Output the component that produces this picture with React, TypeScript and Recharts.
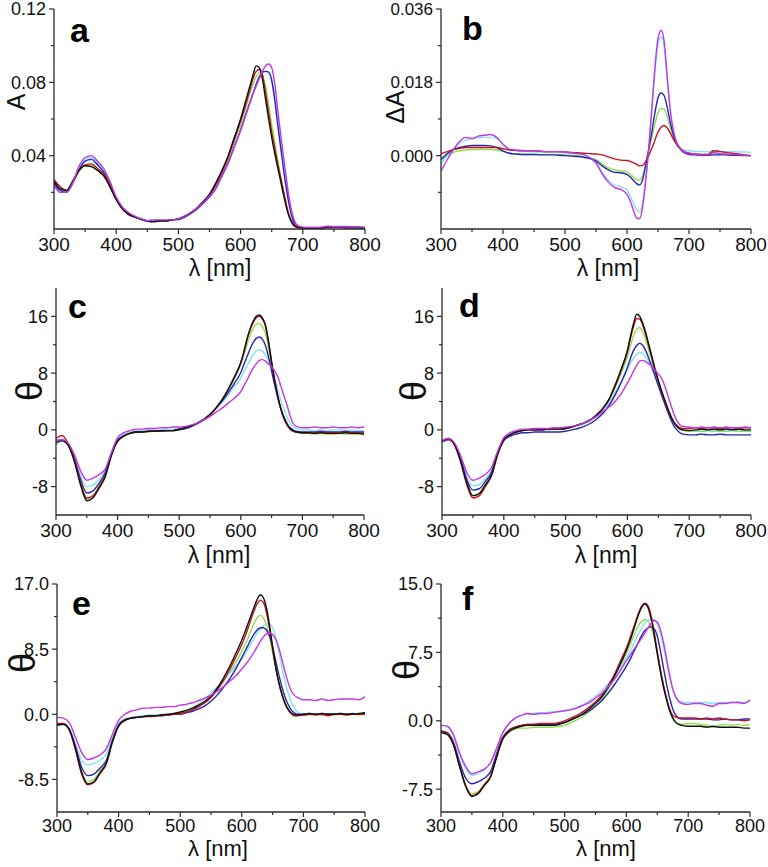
import React from 'react';
import { LineChart, Line, XAxis, YAxis } from 'recharts';

const WAVELENGTH = [
  300, 310, 320, 330, 340, 350, 360, 370, 380, 390,
  400, 410, 420, 430, 440, 450, 460, 470, 480, 490,
  500, 510, 520, 530, 540, 550, 560, 570, 580, 590,
  600, 605, 610, 615, 620, 625, 630, 635, 640, 645,
  650, 655, 660, 665, 670, 675, 680, 685, 690, 700,
  710, 720, 730, 740, 750, 760, 770, 780, 790, 800,
];
const X_TICKS = [300, 350, 400, 450, 500, 550, 600, 650, 700, 750, 800];

// ---- panel a : absorbance A ----
const A_K = [
  0.026, 0.022, 0.021, 0.026, 0.032, 0.0345, 0.034, 0.032, 0.029, 0.023,
  0.016, 0.011, 0.008, 0.0065, 0.0055, 0.0045, 0.004, 0.0045, 0.0045, 0.005,
  0.0055, 0.007, 0.009, 0.0115, 0.015, 0.019, 0.025, 0.032, 0.040, 0.050,
  0.060, 0.066, 0.072, 0.078, 0.084, 0.089, 0.088, 0.082, 0.071, 0.060,
  0.050, 0.041, 0.033, 0.025, 0.017, 0.010, 0.005, 0.002, 0.001, 0.0005,
  0.0005, 0.0005, 0.0005, 0.001, 0.001, 0.001, 0.0008, 0.0008, 0.0008, 0.0005,
];
const A_R = [
  0.027, 0.023, 0.021, 0.026, 0.032, 0.035, 0.0355, 0.033, 0.030, 0.024,
  0.0165, 0.011, 0.008, 0.0065, 0.0055, 0.0045, 0.004, 0.0045, 0.0045, 0.005,
  0.0055, 0.007, 0.009, 0.0115, 0.015, 0.0185, 0.024, 0.031, 0.039, 0.049,
  0.059, 0.064, 0.070, 0.076, 0.082, 0.086, 0.087, 0.084, 0.075, 0.064,
  0.053, 0.044, 0.035, 0.027, 0.019, 0.011, 0.0055, 0.0025, 0.0012, 0.0005,
  0.0005, 0.0005, 0.0005, 0.001, 0.001, 0.001, 0.0008, 0.0008, 0.0008, 0.0005,
];
const A_G = [
  0.025, 0.021, 0.020, 0.025, 0.031, 0.0345, 0.0345, 0.032, 0.029, 0.023,
  0.016, 0.011, 0.008, 0.0065, 0.005, 0.0042, 0.004, 0.0045, 0.0045, 0.005,
  0.0052, 0.0065, 0.0085, 0.011, 0.0145, 0.018, 0.023, 0.030, 0.038, 0.048,
  0.057, 0.062, 0.068, 0.074, 0.079, 0.083, 0.085, 0.084, 0.078, 0.068,
  0.057, 0.047, 0.037, 0.028, 0.019, 0.011, 0.0055, 0.0025, 0.0012, 0.0005,
  0.0005, 0.0005, 0.0005, 0.001, 0.001, 0.0008, 0.0008, 0.0008, 0.0006, 0.0005,
];
const A_B = [
  0.025, 0.021, 0.020, 0.025, 0.032, 0.037, 0.038, 0.035, 0.031, 0.024,
  0.0165, 0.011, 0.008, 0.0065, 0.0052, 0.0042, 0.004, 0.0045, 0.0045, 0.005,
  0.0052, 0.0065, 0.0085, 0.011, 0.014, 0.0175, 0.022, 0.029, 0.036, 0.045,
  0.054, 0.059, 0.064, 0.069, 0.074, 0.079, 0.083, 0.0855, 0.086, 0.0855,
  0.081, 0.070, 0.056, 0.043, 0.030, 0.019, 0.010, 0.004, 0.0015, 0.0005,
  0.0005, 0.0005, 0.0005, 0.001, 0.001, 0.001, 0.0008, 0.0008, 0.0008, 0.0005,
];
const A_C = [
  0.024, 0.020, 0.020, 0.025, 0.033, 0.038, 0.039, 0.036, 0.032, 0.025,
  0.017, 0.0115, 0.0085, 0.0065, 0.0052, 0.0042, 0.0045, 0.0045, 0.0045, 0.005,
  0.0052, 0.0065, 0.0085, 0.011, 0.014, 0.0175, 0.022, 0.029, 0.036, 0.045,
  0.054, 0.059, 0.064, 0.069, 0.074, 0.078, 0.082, 0.085, 0.086, 0.086,
  0.082, 0.072, 0.059, 0.046, 0.033, 0.021, 0.011, 0.005, 0.002, 0.001,
  0.001, 0.001, 0.001, 0.0015, 0.0015, 0.0015, 0.0015, 0.0012, 0.0012, 0.001,
];
const A_M = [
  0.024, 0.020, 0.020, 0.025, 0.034, 0.039, 0.040, 0.037, 0.033, 0.026,
  0.0175, 0.012, 0.009, 0.007, 0.0055, 0.0045, 0.005, 0.005, 0.005, 0.005,
  0.0055, 0.007, 0.009, 0.0115, 0.0145, 0.018, 0.022, 0.029, 0.036, 0.045,
  0.054, 0.059, 0.064, 0.069, 0.074, 0.078, 0.082, 0.086, 0.089, 0.090,
  0.088, 0.079, 0.064, 0.050, 0.037, 0.024, 0.013, 0.006, 0.0025, 0.001,
  0.0008, 0.0008, 0.001, 0.0015, 0.0012, 0.0012, 0.0012, 0.001, 0.001, 0.001,
];

// ---- panel b : difference absorbance dA ----
const B_R = [
  0.0005, 0.001, 0.0015, 0.0018, 0.002, 0.002, 0.002, 0.002, 0.002, 0.002,
  0.0017, 0.0014, 0.0013, 0.0012, 0.0012, 0.0012, 0.0011, 0.001, 0.001, 0.001,
  0.0009, 0.0008, 0.0007, 0.0006, 0.0005, 0.0004, 0.0002, -0.0003, -0.0008, -0.0011,
  -0.0012, -0.0014, -0.0017, -0.0021, -0.0025, -0.0024, -0.0015, 0.0, 0.0018, 0.0038,
  0.0058, 0.007, 0.0074, 0.0068, 0.0055, 0.004, 0.0028, 0.0018, 0.0012, 0.0006,
  0.0004, 0.0003, 0.0003, 0.0012, 0.001, 0.0008, 0.0006, 0.0004, 0.0002, 0.0,
];
const B_G = [
  -0.0008, 0.0, 0.0008, 0.0012, 0.0014, 0.0015, 0.0015, 0.0015, 0.0015, 0.0014,
  0.001, 0.0006, 0.0004, 0.0003, 0.0003, 0.0003, 0.0003, 0.0003, 0.0003, 0.0003,
  0.0002, 0.0001, 0.0, -0.0002, -0.0005, -0.001, -0.002, -0.003, -0.0035, -0.0037,
  -0.004, -0.0045, -0.0052, -0.0058, -0.006, -0.005, -0.002, 0.0015, 0.0045, 0.0078,
  0.0105, 0.0116, 0.0114, 0.0095, 0.0068, 0.0045, 0.0028, 0.0018, 0.0012, 0.0006,
  0.0004, 0.0003, 0.0003, 0.0005, 0.0004, 0.0003, 0.0002, 0.0002, 0.0001, 0.0,
];
const B_B = [
  -0.001, 0.0005, 0.0015, 0.002, 0.0023, 0.0025, 0.0025, 0.0025, 0.0024, 0.002,
  0.0012, 0.0006, 0.0004, 0.0003, 0.0003, 0.0003, 0.0002, 0.0002, 0.0002, 0.0001,
  0.0, -0.0001, -0.0002, -0.0004, -0.0007, -0.0013, -0.0025, -0.0035, -0.0041, -0.0042,
  -0.0046, -0.0052, -0.006, -0.0068, -0.0072, -0.006, -0.0025, 0.0015, 0.0058, 0.0105,
  0.0142, 0.0154, 0.0147, 0.0118, 0.008, 0.005, 0.003, 0.0018, 0.001, 0.0003,
  0.0002, 0.0001, 0.0001, 0.0002, 0.0002, 0.0002, 0.0001, 0.0001, 0.0, 0.0,
];
const B_C = [
  -0.002, 0.0, 0.0015, 0.003, 0.0038, 0.0042, 0.0044, 0.0045, 0.0045, 0.0042,
  0.0028, 0.0015, 0.0012, 0.001, 0.001, 0.0009, 0.0009, 0.0008, 0.0008, 0.0008,
  0.0007, 0.0006, 0.0004, 0.0002, -0.0005, -0.0015, -0.004, -0.006, -0.0072, -0.0076,
  -0.0085, -0.0098, -0.0115, -0.0132, -0.0138, -0.0115, -0.0055, 0.002, 0.011, 0.0205,
  0.0272, 0.0292, 0.0265, 0.018, 0.0105, 0.0058, 0.0032, 0.002, 0.0015, 0.0012,
  0.0011, 0.001, 0.001, 0.0012, 0.0011, 0.001, 0.001, 0.0009, 0.0009, 0.0008,
];
const B_M = [
  -0.0038, -0.001, 0.0015, 0.0035, 0.0045, 0.0042, 0.0048, 0.005, 0.0052, 0.0045,
  0.0028, 0.0016, 0.0014, 0.0013, 0.0012, 0.0012, 0.0011, 0.001, 0.001, 0.001,
  0.0009, 0.0007, 0.0005, 0.0003, -0.0005, -0.0018, -0.0045, -0.0065, -0.0078, -0.0083,
  -0.0095, -0.011, -0.0132, -0.0152, -0.0155, -0.0128, -0.0065, 0.0015, 0.0115, 0.0215,
  0.0288, 0.0308, 0.028, 0.0192, 0.011, 0.006, 0.0033, 0.002, 0.0012, 0.0005,
  0.0003, 0.0002, 0.0002, 0.0008, 0.0005, 0.0004, 0.0003, 0.0002, 0.0001, 0.0,
];

// ---- panel c : ellipticity ----
const C_K = [
  -1.5, -1.5, -2.2, -4.5, -7.8, -10.0, -9.6, -8.2, -6.6, -3.6,
  -1.6, -0.9, -0.5, -0.3, -0.3, -0.2, -0.2, -0.1, -0.1, -0.1,
  0.1, 0.3, 0.6, 1.0, 1.5, 2.2, 3.1, 4.3, 5.8, 7.5,
  9.5, 11.0, 12.8, 14.2, 15.3, 16.0, 16.2, 15.8, 14.8, 12.5,
  9.6, 7.0, 4.8, 3.0, 1.7, 0.8, 0.2, -0.1, -0.3, -0.4,
  -0.4, -0.5, -0.4, -0.5, -0.5, -0.5, -0.4, -0.5, -0.5, -0.6,
];
const C_R = [
  -1.2, -0.8, -2.0, -4.3, -7.5, -9.6, -9.3, -8.0, -6.4, -3.5,
  -1.6, -0.9, -0.5, -0.3, -0.3, -0.2, -0.2, -0.1, -0.1, -0.1,
  0.1, 0.3, 0.6, 1.0, 1.5, 2.2, 3.1, 4.3, 5.8, 7.5,
  9.5, 11.0, 12.7, 14.1, 15.1, 15.8, 16.0, 15.6, 14.6, 12.3,
  9.5, 6.9, 4.7, 2.9, 1.6, 0.7, 0.1, -0.2, -0.3, -0.4,
  -0.4, -0.4, -0.3, -0.4, -0.4, -0.4, -0.3, -0.4, -0.4, -0.5,
];
const C_G = [
  -2.0, -1.6, -2.3, -4.4, -7.6, -9.7, -9.3, -7.9, -6.3, -3.5,
  -1.6, -0.9, -0.5, -0.4, -0.3, -0.3, -0.2, -0.2, -0.2, -0.1,
  0.0, 0.2, 0.5, 0.9, 1.4, 2.1, 3.0, 4.2, 5.6, 7.3,
  9.2, 10.5, 12.0, 13.3, 14.3, 14.9, 15.0, 14.6, 13.6, 11.6,
  9.1, 6.8, 4.7, 3.0, 1.7, 0.8, 0.2, -0.2, -0.3, -0.5,
  -0.5, -0.6, -0.5, -0.6, -0.6, -0.5, -0.6, -0.6, -0.6, -0.7,
];
const C_B = [
  -1.8, -1.5, -2.1, -4.1, -7.0, -8.9, -8.6, -7.5, -6.0, -3.3,
  -1.5, -0.8, -0.5, -0.3, -0.3, -0.2, -0.2, -0.2, -0.1, -0.1,
  0.0, 0.2, 0.5, 0.9, 1.4, 2.1, 3.1, 4.1, 5.3, 6.6,
  8.1, 9.2, 10.3, 11.4, 12.3, 12.9, 13.1, 12.8, 11.9, 10.3,
  8.3, 6.3, 4.5, 3.0, 1.8, 0.9, 0.3, 0.0, -0.2, -0.3,
  -0.3, -0.3, -0.2, -0.3, -0.3, -0.3, -0.2, -0.3, -0.3, -0.3,
];
const C_C = [
  -1.5, -1.4, -2.0, -3.8, -6.5, -8.0, -7.8, -7.0, -5.7, -3.1,
  -1.3, -0.6, -0.3, -0.1, -0.1, 0.0, 0.0, 0.0, 0.1, 0.1,
  0.2, 0.3, 0.6, 0.9, 1.4, 2.1, 3.0, 3.9, 5.0, 6.1,
  7.3, 8.2, 9.0, 9.8, 10.6, 11.1, 11.3, 11.1, 10.6, 9.8,
  8.8, 7.2, 5.7, 4.2, 2.9, 1.8, 0.9, 0.4, 0.2, 0.0,
  0.0, -0.1, 0.0, -0.1, 0.0, 0.0, -0.1, 0.0, -0.1, -0.1,
];
const C_M = [
  -1.5, -1.4, -1.9, -3.5, -5.8, -7.1, -6.8, -6.3, -5.5, -3.2,
  -1.1, -0.4, -0.1, 0.1, 0.1, 0.2, 0.2, 0.3, 0.3, 0.4,
  0.4, 0.5, 0.7, 1.0, 1.4, 1.9, 2.5, 3.1, 3.8, 4.5,
  5.4, 6.2, 7.0, 7.9, 8.7, 9.3, 9.8, 9.9, 9.7, 9.3,
  8.9, 8.3, 7.5, 6.2, 4.8, 3.5, 2.0, 0.9, 0.5, 0.3,
  0.3, 0.4, 0.3, 0.3, 0.4, 0.3, 0.3, 0.4, 0.3, 0.4,
];

// ---- panel d ----
const D_K = [
  -1.6, -1.2, -2.0, -4.3, -7.4, -9.3, -9.0, -7.8, -6.4, -3.4,
  -1.4, -0.7, -0.3, -0.1, 0.0, 0.0, 0.0, 0.1, 0.1, 0.1,
  0.2, 0.4, 0.7, 1.0, 1.4, 2.1, 3.0, 4.3, 6.3, 8.6,
  11.2, 13.2, 15.0, 16.3, 16.0, 15.0, 13.6, 11.9, 10.2, 8.5,
  7.0, 5.6, 4.3, 3.1, 2.0, 1.1, 0.5, 0.1, 0.0, -0.1,
  0.0, 0.1, 0.0, 0.1, 0.0, 0.1, 0.0, 0.1, 0.0, 0.0,
];
const D_R = [
  -1.6, -1.3, -2.1, -4.5, -7.7, -9.6, -9.3, -8.0, -6.5, -3.5,
  -1.4, -0.7, -0.3, -0.1, 0.0, 0.0, 0.0, 0.1, 0.1, 0.1,
  0.2, 0.4, 0.7, 1.0, 1.4, 2.1, 3.0, 4.2, 6.1, 8.4,
  11.0, 12.9, 14.6, 15.7, 15.6, 14.7, 13.3, 11.7, 10.0, 8.3,
  6.8, 5.4, 4.1, 2.9, 1.9, 1.1, 0.6, 0.3, 0.2, 0.2,
  0.3, 0.2, 0.3, 0.3, 0.2, 0.3, 0.3, 0.2, 0.3, 0.3,
];
const D_G = [
  -1.6, -1.3, -2.0, -4.3, -7.4, -9.2, -8.9, -7.7, -6.3, -3.4,
  -1.4, -0.7, -0.3, -0.1, 0.0, 0.0, 0.0, 0.0, 0.1, 0.1,
  0.2, 0.4, 0.6, 0.9, 1.3, 2.0, 2.9, 4.1, 5.9, 8.0,
  10.3, 11.9, 13.3, 14.2, 14.4, 13.8, 12.6, 11.1, 9.6, 8.1,
  6.7, 5.4, 4.2, 3.0, 2.0, 1.1, 0.5, 0.1, -0.1, -0.2,
  -0.2, -0.2, -0.1, -0.2, -0.2, -0.2, -0.1, -0.2, -0.2, -0.2,
];
const D_B = [
  -1.7, -1.4, -2.0, -4.1, -7.0, -8.5, -8.3, -7.3, -6.0, -3.3,
  -1.5, -0.9, -0.6, -0.4, -0.4, -0.3, -0.3, -0.3, -0.3, -0.3,
  -0.2, 0.0, 0.2, 0.5, 0.9, 1.5, 2.3, 3.4, 4.9, 6.7,
  8.8, 10.1, 11.2, 11.9, 12.2, 11.9, 11.1, 10.0, 8.8, 7.5,
  6.2, 5.0, 3.8, 2.6, 1.5, 0.6, 0.0, -0.4, -0.6, -0.7,
  -0.7, -0.6, -0.7, -0.7, -0.6, -0.7, -0.7, -0.7, -0.7, -0.7,
];
const D_C = [
  -1.6, -1.3, -1.9, -3.9, -6.6, -7.9, -7.7, -6.9, -5.7, -3.1,
  -1.3, -0.6, -0.2, 0.0, 0.0, 0.0, 0.1, 0.1, 0.1, 0.1,
  0.2, 0.4, 0.6, 0.9, 1.3, 1.9, 2.7, 3.8, 5.2, 6.8,
  8.5, 9.4, 10.1, 10.6, 10.9, 10.8, 10.3, 9.5, 8.6, 7.6,
  6.6, 5.5, 4.4, 3.2, 2.1, 1.2, 0.6, 0.2, 0.0, -0.1,
  -0.1, 0.0, -0.1, -0.1, 0.0, -0.1, -0.1, 0.0, -0.1, -0.1,
];
const D_M = [
  -1.5, -1.2, -1.8, -3.6, -6.0, -7.1, -6.8, -6.3, -5.3, -3.0,
  -1.1, -0.4, -0.1, 0.1, 0.1, 0.2, 0.2, 0.2, 0.3, 0.3,
  0.4, 0.5, 0.7, 1.0, 1.4, 1.9, 2.6, 3.2, 4.0, 5.1,
  6.6, 7.4, 8.3, 9.1, 9.7, 9.8, 9.6, 9.3, 8.9, 8.4,
  7.9, 7.3, 6.3, 5.0, 3.6, 2.3, 1.3, 0.7, 0.5, 0.4,
  0.3, 0.4, 0.3, 0.4, 0.3, 0.4, 0.3, 0.3, 0.4, 0.3,
];

// ---- panel e ----
const E_K = [
  -1.4, -1.3, -2.0, -4.5, -7.6, -9.1, -8.8, -7.6, -6.4, -3.6,
  -1.5, -0.8, -0.5, -0.4, -0.3, -0.2, -0.2, -0.1, 0.0, 0.1,
  0.3, 0.5, 0.8, 1.2, 1.7, 2.4, 3.4, 4.7, 6.2, 7.9,
  9.7, 10.7, 11.8, 12.9, 14.0, 15.0, 15.6, 15.2, 13.9, 11.6,
  8.8, 6.2, 4.2, 2.7, 1.5, 0.7, 0.2, 0.0, -0.1, 0.0,
  0.1, 0.0, 0.1, 0.0, 0.0, 0.1, 0.0, 0.0, 0.1, 0.2,
];
const E_R = [
  -1.2, -1.2, -2.0, -4.6, -7.8, -9.2, -8.9, -7.7, -6.5, -3.6,
  -1.5, -0.8, -0.5, -0.4, -0.3, -0.3, -0.2, -0.2, -0.1, 0.0,
  0.1, 0.3, 0.6, 1.0, 1.5, 2.2, 3.2, 4.4, 5.8, 7.4,
  9.1, 10.1, 11.2, 12.4, 13.5, 14.4, 14.9, 14.6, 13.3, 11.2,
  8.6, 6.2, 4.2, 2.6, 1.4, 0.6, 0.1, -0.2, -0.2, -0.1,
  0.0, -0.1, 0.0, -0.2, 0.0, 0.0, -0.1, 0.0, 0.0, 0.0,
];
const E_G = [
  -1.3, -1.3, -2.0, -4.4, -7.5, -8.8, -8.5, -7.4, -6.2, -3.5,
  -1.5, -0.8, -0.5, -0.4, -0.3, -0.3, -0.3, -0.2, -0.1, 0.0,
  0.1, 0.3, 0.6, 1.0, 1.5, 2.2, 3.1, 4.2, 5.4, 6.7,
  8.2, 9.0, 9.9, 10.9, 11.9, 12.6, 12.9, 12.6, 11.7, 10.1,
  8.0, 5.9, 4.1, 2.6, 1.4, 0.6, 0.1, -0.2, -0.2, -0.1,
  -0.1, 0.0, -0.1, 0.0, -0.1, 0.0, -0.1, 0.0, -0.1, 0.0,
];
const E_B = [
  -1.4, -1.3, -2.0, -4.2, -6.9, -8.0, -7.8, -7.0, -6.0, -3.4,
  -1.4, -0.7, -0.5, -0.4, -0.3, -0.2, -0.2, -0.1, -0.1, 0.0,
  0.0, 0.2, 0.4, 0.7, 1.1, 1.7, 2.5, 3.5, 4.6, 5.9,
  7.4, 8.2, 9.0, 9.8, 10.5, 11.0, 11.3, 11.3, 11.0, 10.2,
  8.8, 7.0, 5.2, 3.6, 2.3, 1.3, 0.6, 0.2, 0.0, 0.0,
  0.1, 0.0, 0.1, 0.0, 0.0, 0.1, 0.0, 0.1, 0.0, 0.2,
];
const E_C = [
  -1.4, -1.3, -1.8, -3.8, -6.0, -6.6, -6.4, -6.0, -5.2, -3.0,
  -1.2, -0.6, -0.4, -0.3, -0.2, -0.1, -0.1, 0.0, 0.0, 0.1,
  0.2, 0.5, 0.9, 1.4, 2.0, 2.8, 3.6, 4.4, 5.3, 6.2,
  7.2, 7.8, 8.5, 9.2, 9.9, 10.6, 11.1, 11.5, 11.8, 11.8,
  11.3, 10.0, 8.2, 6.2, 4.4, 2.9, 1.7, 0.9, 0.3, 0.0,
  0.0, 0.1, 0.0, 0.0, 0.1, 0.0, 0.0, 0.1, 0.0, 0.1,
];
const E_M = [
  -0.4, -0.5, -1.1, -3.0, -5.0, -5.9, -5.7, -5.3, -4.5, -2.6,
  -0.8, 0.0, 0.4, 0.6, 0.8, 0.8, 0.9, 0.9, 1.0, 1.0,
  1.2, 1.3, 1.5, 1.8, 2.1, 2.5, 3.0, 3.6, 4.3, 5.0,
  5.9, 6.4, 6.9, 7.5, 8.1, 8.8, 9.5, 10.1, 10.5, 10.6,
  10.4, 9.8, 8.7, 7.2, 5.6, 4.2, 3.1, 2.5, 2.2, 1.9,
  1.9, 1.8, 2.0, 1.8, 1.9, 2.0, 2.0, 2.0, 1.9, 2.3,
];

// ---- panel f ----
const F_K = [
  -1.3, -1.5, -2.6, -5.0, -7.2, -8.3, -8.0, -7.1, -6.2, -4.0,
  -2.0, -1.2, -0.8, -0.6, -0.5, -0.5, -0.5, -0.5, -0.5, -0.4,
  -0.2, 0.1, 0.4, 0.8, 1.3, 1.9, 2.6, 3.6, 4.8, 6.2,
  7.7, 8.6, 9.6, 10.7, 11.7, 12.5, 12.8, 12.4, 11.2, 9.4,
  7.3, 5.4, 3.7, 2.3, 1.1, 0.3, -0.2, -0.4, -0.5, -0.6,
  -0.6, -0.6, -0.7, -0.6, -0.7, -0.7, -0.7, -0.7, -0.8, -0.8,
];
const F_R = [
  -1.2, -1.4, -2.5, -4.9, -7.1, -8.2, -7.9, -7.0, -6.1, -3.9,
  -1.9, -1.1, -0.7, -0.5, -0.4, -0.4, -0.3, -0.3, -0.3, -0.2,
  0.0, 0.3, 0.6, 1.0, 1.5, 2.1, 2.8, 3.8, 5.0, 6.5,
  8.0, 8.9, 9.9, 10.9, 11.9, 12.6, 12.9, 12.6, 11.5, 9.7,
  7.6, 5.6, 3.9, 2.5, 1.3, 0.6, 0.4, 0.3, 0.3, 0.3,
  0.3, 0.2, 0.3, 0.2, 0.3, 0.2, 0.1, 0.1, 0.0, 0.1,
];
const F_G = [
  -1.3, -1.5, -2.6, -5.0, -7.1, -8.0, -7.8, -7.0, -6.1, -4.0,
  -2.0, -1.2, -0.9, -0.8, -0.8, -0.7, -0.7, -0.7, -0.7, -0.6,
  -0.5, -0.2, 0.1, 0.5, 1.0, 1.6, 2.4, 3.4, 4.6, 6.0,
  7.4, 8.2, 9.0, 9.8, 10.5, 10.9, 11.1, 10.9, 10.3, 9.1,
  7.5, 5.7, 3.9, 2.4, 1.2, 0.4, -0.1, -0.3, -0.4, -0.3,
  -0.3, -0.4, -0.5, -0.7, -0.5, -0.4, -0.5, -0.4, -0.5, -0.4,
];
const F_B = [
  -1.1, -1.3, -2.3, -4.5, -6.3, -6.9, -6.7, -6.3, -5.6, -3.6,
  -1.8, -1.0, -0.7, -0.5, -0.4, -0.4, -0.4, -0.4, -0.4, -0.3,
  -0.2, 0.1, 0.4, 0.7, 1.1, 1.6, 2.2, 3.0, 3.9, 4.9,
  6.0, 6.6, 7.3, 8.0, 8.7, 9.4, 9.9, 10.2, 10.3, 10.1,
  9.3, 7.7, 5.8, 4.0, 2.5, 1.3, 0.6, 0.3, 0.2, 0.2,
  0.2, 0.2, 0.2, 0.1, 0.1, 0.2, 0.1, 0.1, 0.2, 0.2,
];
const F_C = [
  -0.5, -0.6, -1.6, -3.7, -5.3, -6.0, -5.8, -5.4, -4.6, -3.0,
  -1.3, -0.3, 0.3, 0.6, 0.8, 0.8, 0.9, 0.9, 1.0, 1.0,
  1.1, 1.3, 1.5, 1.8, 2.2, 2.7, 3.3, 4.0, 4.8, 5.8,
  6.9, 7.5, 8.2, 8.9, 9.6, 10.2, 10.7, 11.0, 11.1, 11.1,
  10.6, 9.6, 8.1, 6.4, 4.7, 3.4, 2.6, 2.2, 2.1, 2.0,
  2.0, 2.0, 2.0, 1.9, 2.0, 2.0, 2.0, 2.1, 2.0, 2.1,
];
const F_M = [
  -0.5, -0.6, -1.5, -3.5, -5.0, -5.8, -5.6, -5.3, -4.6, -3.0,
  -1.3, -0.3, 0.3, 0.6, 0.8, 0.7, 0.8, 0.8, 0.9, 1.0,
  1.1, 1.2, 1.4, 1.7, 2.0, 2.5, 3.0, 3.7, 4.5, 5.5,
  6.6, 7.1, 7.6, 8.1, 8.6, 9.1, 9.6, 10.2, 10.7, 11.0,
  10.8, 10.0, 8.6, 6.8, 5.0, 3.5, 2.6, 2.1, 1.9, 1.8,
  1.9, 1.9, 1.7, 1.6, 1.9, 1.9, 2.0, 2.0, 1.9, 2.3,
];

const COLORS = {
  k: '#111111',
  r: '#c4141e',
  g: '#8fe050',
  b: '#2626b6',
  c: '#86e2f0',
  m: '#c236e6',
};

const FONT = '"Liberation Sans", Arial, Helvetica, sans-serif';
const AXIS = '#2a2a2a';

type Series = { key: string; color: string; values: number[] };
type PanelDef = {
  id: string;
  L: number; T: number; R: number; B: number;
  domain: [number, number];
  major: number[];
  minor: number[];
  fmt: (v: number) => string;
  tickFont: number;
  xTickFont: number;
  xTickDy: number;
  series: Series[];
};

const mk = (k: any, r: any, g: any, b: any, c: any, m: any): Series[] => {
  const out: Series[] = [];
  if (g) out.push({ key: 'g', color: COLORS.g, values: g });
  if (c) out.push({ key: 'c', color: COLORS.c, values: c });
  if (b) out.push({ key: 'b', color: COLORS.b, values: b });
  if (r) out.push({ key: 'r', color: COLORS.r, values: r });
  if (k) out.push({ key: 'k', color: COLORS.k, values: k });
  if (m) out.push({ key: 'm', color: COLORS.m, values: m });
  return out;
};

const PANELS: PanelDef[] = [
  {
    id: 'a', L: 54, T: 9, R: 365, B: 229,
    domain: [0, 0.12], major: [0.04, 0.08, 0.12], minor: [0.02, 0.06, 0.1],
    fmt: (v) => v.toFixed(2), tickFont: 18, xTickFont: 19, xTickDy: 22,
    series: mk(A_K, A_R, A_G, A_B, A_C, A_M),
  },
  {
    id: 'b', L: 441, T: 9, R: 751, B: 229,
    domain: [-0.018, 0.036], major: [0, 0.018, 0.036], minor: [-0.009, 0.009, 0.027],
    fmt: (v) => v.toFixed(3), tickFont: 17, xTickFont: 19, xTickDy: 22,
    series: mk(null, B_R, B_G, B_B, B_C, B_M),
  },
  {
    id: 'c', L: 56, T: 288, R: 364, B: 515,
    domain: [-12, 20], major: [-8, 0, 8, 16], minor: [-4, 4, 12],
    fmt: (v) => String(v), tickFont: 18, xTickFont: 19, xTickDy: 22,
    series: mk(C_K, C_R, C_G, C_B, C_C, C_M),
  },
  {
    id: 'd', L: 442, T: 288, R: 751, B: 515,
    domain: [-12, 20], major: [-8, 0, 8, 16], minor: [-4, 4, 12],
    fmt: (v) => String(v), tickFont: 18, xTickFont: 19, xTickDy: 22,
    series: mk(D_K, D_R, D_G, D_B, D_C, D_M),
  },
  {
    id: 'e', L: 57, T: 584, R: 365, B: 812,
    domain: [-12.75, 17], major: [-8.5, 0, 8.5, 17], minor: [-4.25, 4.25, 12.75],
    fmt: (v) => v.toFixed(1), tickFont: 18, xTickFont: 18, xTickDy: 20,
    series: mk(E_K, E_R, E_G, E_B, E_C, E_M),
  },
  {
    id: 'f', L: 441, T: 584, R: 750, B: 812,
    domain: [-10, 15], major: [-7.5, 0, 7.5, 15], minor: [-3.75, 3.75, 11.25],
    fmt: (v) => v.toFixed(1), tickFont: 18, xTickFont: 18, xTickDy: 20,
    series: mk(F_K, F_R, F_G, F_B, F_C, F_M),
  },
];

const LEFT_PAD = 60;
const TOP_PAD = 14;
const RIGHT_PAD = 17;
const X_AXIS_H = 30;

function makeYTick(major: number[], fmt: (v: number) => string, fs: number) {
  return (props: any) => {
    const { x, y, payload } = props;
    const v = payload.value as number;
    const isMajor = major.some((m) => Math.abs(m - v) < 1e-9);
    return (
      <g>
        <line x1={x - (isMajor ? 5 : 3)} x2={x} y1={y} y2={y} stroke={AXIS} strokeWidth={1.2} />
        {isMajor ? (
          <text x={x - 8} y={y} dy="0.36em" textAnchor="end" fontSize={fs} fontFamily={FONT} fill="#111">
            {fmt(v)}
          </text>
        ) : null}
      </g>
    );
  };
}

function makeXTick(fs: number, dy: number) {
  return (props: any) => {
    const { x, y, payload } = props;
    const v = payload.value as number;
    const isMajor = v % 100 === 0;
    return (
      <g>
        <line x1={x} x2={x} y1={y} y2={y + (isMajor ? 5 : 3)} stroke={AXIS} strokeWidth={1.2} />
        {isMajor ? (
          <text x={x} y={y + dy} textAnchor="middle" fontSize={fs} fontFamily={FONT} fill="#111">
            {String(v)}
          </text>
        ) : null}
      </g>
    );
  };
}

function Panel({ p }: { p: PanelDef }) {
  const w = p.R - p.L;
  const h = p.B - p.T;
  const data = WAVELENGTH.map((x, i) => {
    const row: any = { x };
    p.series.forEach((s) => {
      row[s.key] = s.values[i];
    });
    return row;
  });
  const allTicks = [...p.major, ...p.minor].sort((a, b) => a - b);
  const W = w + LEFT_PAD + RIGHT_PAD;
  const H = h + TOP_PAD + X_AXIS_H;
  return (
    <div style={{ position: 'absolute', left: p.L - LEFT_PAD, top: p.T - TOP_PAD, width: W, height: H }}>
      <LineChart width={W} height={H} data={data} margin={{ top: TOP_PAD, right: RIGHT_PAD, bottom: 0, left: 0 }}>
        <XAxis
          type="number"
          dataKey="x"
          domain={[300, 800]}
          ticks={X_TICKS}
          interval={0}
          tickSize={0}
          tickMargin={0}
          tickLine={false}
          axisLine={{ stroke: AXIS, strokeWidth: 1.3 }}
          height={X_AXIS_H}
          tick={makeXTick(p.xTickFont, p.xTickDy)}
          allowDataOverflow
        />
        <YAxis
          type="number"
          domain={p.domain}
          ticks={allTicks}
          interval={0}
          width={LEFT_PAD}
          tickSize={0}
          tickMargin={0}
          tickLine={false}
          axisLine={{ stroke: AXIS, strokeWidth: 1.3 }}
          tick={makeYTick(p.major, p.fmt, p.tickFont)}
          allowDataOverflow
        />
        {p.series.map((s) => (
          <Line
            key={s.key}
            dataKey={s.key}
            type="monotone"
            stroke={s.color}
            strokeWidth={1.4}
            dot={false}
            activeDot={false}
            isAnimationActive={false}
          />
        ))}
      </LineChart>
    </div>
  );
}

const LETTERS = [
  { t: 'a', x: 70, y: 42 },
  { t: 'b', x: 462, y: 40 },
  { t: 'c', x: 68, y: 318 },
  { t: 'd', x: 459, y: 317 },
  { t: 'e', x: 72, y: 615 },
  { t: 'f', x: 462, y: 610 },
];

const Y_TITLES = [
  { t: 'A', x: 16, y: 102, fs: 25 },
  { t: 'ΔA', x: 395, y: 107, fs: 25 },
  { t: 'θ', x: 29, y: 391, fs: 36 },
  { t: 'θ', x: 413, y: 391, fs: 36 },
  { t: 'θ', x: 22, y: 663, fs: 36 },
  { t: 'θ', x: 406, y: 670, fs: 36 },
];

const X_TITLES = [
  { x: 220, y: 276, fs: 23 },
  { x: 608, y: 276, fs: 23 },
  { x: 219, y: 563, fs: 23 },
  { x: 606, y: 563, fs: 23 },
  { x: 218, y: 856, fs: 22 },
  { x: 606, y: 856, fs: 22 },
];

export default function App() {
  return (
    <div style={{ position: 'absolute', left: 0, top: 0, width: 768, height: 867, background: '#ffffff', overflow: 'hidden' }}>
      {PANELS.map((p) => (
        <Panel key={p.id} p={p} />
      ))}
      <svg width={768} height={867} style={{ position: 'absolute', left: 0, top: 0, pointerEvents: 'none' }}>
        {LETTERS.map((l) => (
          <text key={l.t} x={l.x} y={l.y} fontSize={34} fontWeight="bold" fontFamily={FONT} fill="#000">
            {l.t}
          </text>
        ))}
        {Y_TITLES.map((t, i) => (
          <text
            key={'yt' + i}
            transform={`translate(${t.x},${t.y}) rotate(-90)`}
            textAnchor="middle"
            dominantBaseline="central"
            fontSize={t.fs}
            fontFamily={FONT}
            fill="#111"
          >
            {t.t}
          </text>
        ))}
        {X_TITLES.map((t, i) => (
          <text key={'xt' + i} x={t.x} y={t.y} textAnchor="middle" fontSize={t.fs} fontFamily={FONT} fill="#111">
            λ [nm]
          </text>
        ))}
      </svg>
    </div>
  );
}
